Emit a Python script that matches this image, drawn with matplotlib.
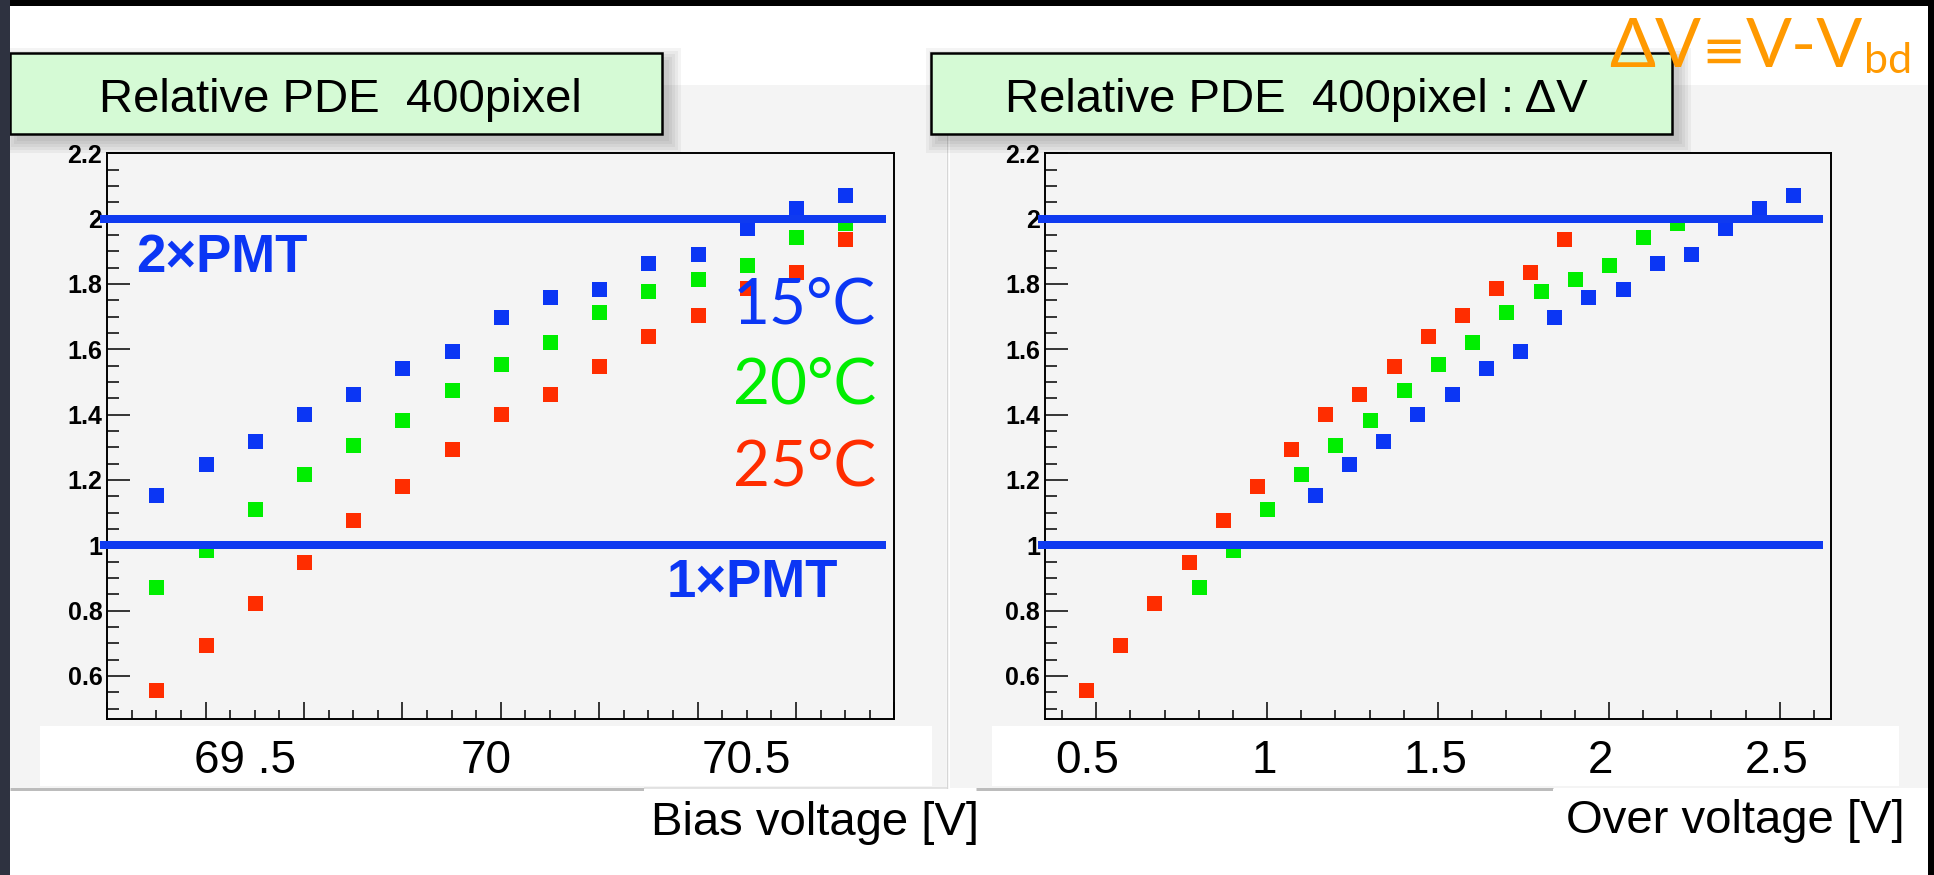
import numpy as np
import matplotlib
matplotlib.use('Agg')
import matplotlib.pyplot as plt
from matplotlib.patches import Rectangle
from matplotlib.ticker import MultipleLocator
import matplotlib.transforms as mtransforms

# ---------------- data ----------------
bias_voltage = [69.3, 69.4, 69.5, 69.6, 69.7, 69.8, 69.9, 70.0, 70.1, 70.2, 70.3, 70.4, 70.5, 70.6, 70.7]
pde_15C = [1.153, 1.249, 1.319, 1.401, 1.463, 1.543, 1.595, 1.698, 1.760, 1.783, 1.865, 1.893, 1.970, 2.034, 2.071]
pde_20C = [0.871, 0.985, 1.112, 1.217, 1.308, 1.382, 1.474, 1.556, 1.623, 1.715, 1.777, 1.816, 1.858, 1.945, 1.987]
pde_25C = [0.556, 0.696, 0.824, 0.948, 1.076, 1.182, 1.296, 1.402, 1.463, 1.550, 1.641, 1.706, 1.787, 1.838, 1.939]
over_voltage_15C = [1.14, 1.24, 1.34, 1.44, 1.54, 1.64, 1.74, 1.84, 1.94, 2.04, 2.14, 2.24, 2.34, 2.44, 2.54]
over_voltage_20C = [0.80, 0.90, 1.00, 1.10, 1.20, 1.30, 1.40, 1.50, 1.60, 1.70, 1.80, 1.90, 2.00, 2.10, 2.20]
over_voltage_25C = [0.47, 0.57, 0.67, 0.77, 0.87, 0.97, 1.07, 1.17, 1.27, 1.37, 1.47, 1.57, 1.67, 1.77, 1.87]
pmt_levels = [1.0, 2.0]
pmt_labels = ['1×PMT', '2×PMT']
temp_labels = ['15°C', '20°C', '25°C']
y_ticks = [0.6, 0.8, 1.0, 1.2, 1.4, 1.6, 1.8, 2.0, 2.2]
bias_major_ticks = [69.2, 69.4, 69.6, 69.8, 70.0, 70.2, 70.4, 70.6, 70.8]
over_major_ticks = [0.5, 1.0, 1.5, 2.0, 2.5]
bias_pasted_labels = ['69 .5', '70', '70.5']
over_pasted_labels = ['0.5', '1', '1.5', '2', '2.5']
titles = ['Relative PDE  400pixel', 'Relative PDE  400pixel : ΔV']
xlabels = ['Bias voltage [V]', 'Over voltage [V]']
definition_parts = ['ΔV', '≡', 'V-V', 'bd']

# ---------------- style ----------------
W, H, DPI = 1934, 875, 100
BLUE = '#0b36f4'
GREEN = '#00ee00'
RED = '#ff2d00'
LINE_BLUE = '#0f3af0'
ORANGE = '#ff9900'
PANEL = '#f4f4f4'
ARIAL = ['Liberation Sans', 'DejaVu Sans']
GEO = ['Lato', 'DejaVu Sans']

fig = plt.figure(figsize=(W / DPI, H / DPI), dpi=DPI)
fig.patch.set_facecolor('white')


def fx(px):
    return px / W


def fy(py):
    return 1 - py / H


def rect_px(x0, y0, x1, y1, **kw):
    r = Rectangle((fx(x0), fy(y1)), (x1 - x0) / W, (y1 - y0) / H,
                  transform=fig.transFigure, **kw)
    fig.add_artist(r)
    return r


def hline_px(x0, x1, y, color, lw_px, z):
    fig.add_artist(plt.Line2D([fx(x0), fx(x1)], [fy(y), fy(y)], transform=fig.transFigure,
                              color=color, lw=lw_px * 0.72, zorder=z, solid_capstyle='butt'))


# slide frame
rect_px(0, 0, W, 6, fc='black', ec='none', zorder=10)
rect_px(0, 0, 10, H, fc='#2e3240', ec='none', zorder=10)
rect_px(1928, 0, W, H, fc='black', ec='none', zorder=10)

# canvas panels
rect_px(10, 85, 946, 788, fc=PANEL, ec='none', zorder=-2)
rect_px(950, 85, 1928, 788, fc=PANEL, ec='none', zorder=-2)
fig.add_artist(plt.Line2D([fx(947), fx(947)], [fy(85), fy(788)], transform=fig.transFigure,
                          color='#d6d6d6', lw=1.0, zorder=-1))
hline_px(10, 644, 788.5, '#bcbcbc', 3, -1)
hline_px(644, 947, 788, '#dcdcdc', 1.5, -1)
hline_px(976, 1553, 788.5, '#bcbcbc', 3, -1)

# axes
ax1 = fig.add_axes([fx(107.3), fy(719.3), 787 / W, 566 / H])
ax2 = fig.add_axes([fx(1045), fy(719.3), 786 / W, 566 / H])


def style(ax, xlim, xticks, xminor):
    ax.set_facecolor(PANEL)
    for s in ax.spines.values():
        s.set_linewidth(1.4)
        s.set_color('black')
    ax.set_xlim(*xlim)
    ax.set_ylim(0.467, 2.2)
    ax.set_yticks(y_ticks, ['%g' % v for v in y_ticks], fontweight='bold', fontsize=18, family=ARIAL)
    ax.set_xticks(xticks)
    ax.yaxis.set_minor_locator(MultipleLocator(0.05))
    ax.xaxis.set_minor_locator(MultipleLocator(xminor))
    ax.tick_params(axis='y', which='major', direction='in', length=16.5, width=1.1, pad=3.6)
    ax.tick_params(axis='y', which='minor', direction='in', length=8.5, width=1.1)
    ax.tick_params(axis='x', which='major', direction='in', length=12.2, width=1.1, labelbottom=False)
    ax.tick_params(axis='x', which='minor', direction='in', length=6.3, width=1.1)


style(ax1, (69.2, 70.8), bias_major_ticks, 0.05)
style(ax2, (0.35, 2.65), over_major_ticks, 0.1)

for ax, xs in ((ax1, (bias_voltage, bias_voltage, bias_voltage)),
               (ax2, (over_voltage_15C, over_voltage_20C, over_voltage_25C))):
    for x, y, c in zip(xs, (pde_15C, pde_20C, pde_25C), (BLUE, GREEN, RED)):
        ax.plot(x, y, ls='none', marker='s', ms=10.8, mew=0, color=c, zorder=3)
    trans = mtransforms.blended_transform_factory(ax.transAxes, ax.transData)
    for lvl in pmt_levels:
        ax.plot([-0.009, 0.99], [lvl, lvl], transform=trans, color=LINE_BLUE, lw=8 * 0.72,
                solid_capstyle='butt', clip_on=False, zorder=4)

# annotations in left plot
fig.text(fx(136), fy(271.7), pmt_labels[1], fontsize=38, fontweight='bold', color=BLUE,
         family=ARIAL, ha='left', va='baseline', zorder=6)
fig.text(fx(667), fy(597), pmt_labels[0], fontsize=38, fontweight='bold', color=BLUE,
         family=ARIAL, ha='left', va='baseline', zorder=6)
for lab, col, yb in zip(temp_labels, (BLUE, GREEN, RED), (324, 404, 485)):
    fig.text(fx(876), fy(yb), lab, fontsize=46, color=col, family=GEO,
             ha='right', va='baseline', zorder=6)

# white bands with pasted tick labels
rect_px(40, 726, 932, 786, fc='white', ec='none', zorder=5)
rect_px(992, 726, 1899, 786, fc='white', ec='none', zorder=5)
for lab, xc in zip(bias_pasted_labels, (245, 486, 746)):
    fig.text(fx(xc), fy(773), lab, fontsize=33, family=ARIAL, ha='center', va='baseline', zorder=6)
for lab, xc in zip(over_pasted_labels, (1087, 1264, 1435, 1600, 1777)):
    fig.text(fx(xc), fy(773), lab, fontsize=33, family=ARIAL, ha='center', va='baseline', zorder=6)

# axis titles
rect_px(644, 789, 976, 850, fc='white', ec='none', zorder=5)
rect_px(1553, 789, 1906, 850, fc='white', ec='none', zorder=5)
fig.text(fx(651), fy(835), xlabels[0], fontsize=34, family=ARIAL, ha='left', va='baseline', zorder=6)
fig.text(fx(1566), fy(833), xlabels[1], fontsize=34, family=ARIAL, ha='left', va='baseline', zorder=6)


# title boxes with soft shadow
def title_box(x0, x1, text, xc):
    y0, y1 = 53, 134
    for e in (12, 9, 6, 3, 0):
        rect_px(x0 + 7 - e, y0 + 7 - e, x1 + 7 + e, y1 + 7 + e, fc='black', alpha=0.045,
                ec='none', zorder=6.5)
    rect_px(x0, y0, x1, y1, fc='#d5fad5', ec='black', lw=1.8, zorder=7)
    fig.text(fx(xc), fy(112), text, fontsize=34, family=ARIAL, ha='center', va='baseline', zorder=8)


title_box(10, 662, titles[0], 340.5)
title_box(931, 1672, titles[1], 1296.5)

# orange definition  ΔV ≡ V - V_bd, laid out contiguously (no overlapping boxes)
part_specs = [  # (baseline_px, fontsize, family)
    (66.7, 49, GEO),
    (68.0, 38, ['DejaVu Sans']),
    (66.7, 49, GEO),
    (72.7, 31, GEO),
]
renderer = fig.canvas.get_renderer()
x_cursor = 1609.0
for txt, (yb, fs, fam) in zip(definition_parts, part_specs):
    t = fig.text(fx(x_cursor), fy(yb), txt, fontsize=fs, family=fam, color=ORANGE,
                 ha='left', va='baseline', zorder=9)
    bb = t.get_window_extent(renderer=renderer)
    x_cursor = bb.x1 + 0.5

fig.savefig('out.png', dpi=DPI)
